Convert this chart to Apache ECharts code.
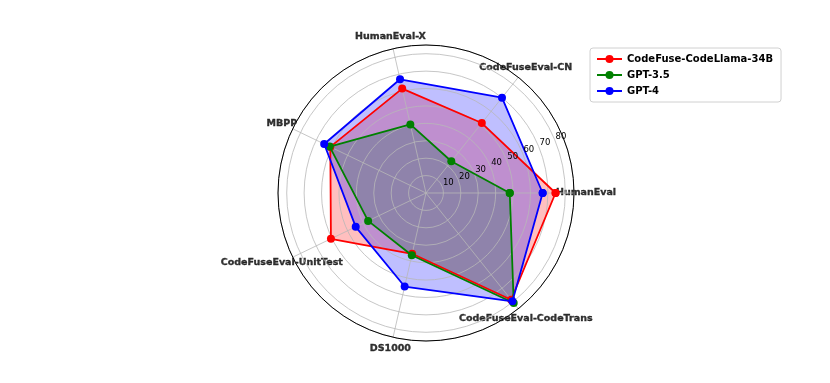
<!DOCTYPE html>
<html>
<head>
<meta charset="utf-8">
<script src="https://cdn.jsdelivr.net/npm/echarts@6/dist/echarts.min.js"></script>
<style>
html,body{margin:0;padding:0;background:#fff;}
#chart{width:830px;height:383px;}
</style>
</head>
<body>
<div id="chart"></div>
<script>
const categories = ['HumanEval', 'CodeFuseEval-CN', 'HumanEval-X', 'MBPP', 'CodeFuseEval-UnitTest', 'DS1000', 'CodeFuseEval-CodeTrans'];
const seriesNames = ['CodeFuse-CodeLlama-34B', 'GPT-3.5', 'GPT-4'];
const codefuseValues = [74.4, 51.4, 61.5, 61.0, 60.6, 35.8, 78.4];
const gpt35Values = [48.1, 23.3, 40.4, 61.4, 36.9, 36.7, 80.8];
const gpt4Values = [67.0, 70.0, 67.0, 64.9, 44.8, 55.1, 79.6];
const radialTicks = [10, 20, 30, 40, 50, 60, 70, 80];
const radialMax = 85;

const FONT = 'DejaVu Sans';
const CENTER = [426, 193];
const R = 148;
const PX_PER_UNIT = R / radialMax;
const N = categories.length;
const colors = ['#ff0000', '#008000', '#0000ff'];
const allValues = [codefuseValues, gpt35Values, gpt4Values];

// [radius, angle-position] pairs; angle position = category index, closed back to the first
function closedData(vals) {
  const d = vals.map((v, i) => [v, i]);
  d.push([vals[0], N]);
  return d;
}

const gridColor = '#b8b8b8';

const series = [];
// line + marker series (drawn on top)
allValues.forEach((vals, k) => {
  series.push({
    name: seriesNames[k],
    type: 'line',
    coordinateSystem: 'polar',
    polarIndex: 0,
    data: closedData(vals),
    symbol: 'circle',
    symbolSize: 8,
    showSymbol: true,
    lineStyle: { color: colors[k], width: 1.8 },
    itemStyle: { color: colors[k] },
    z: 4 + k * 0.1,
    animation: false
  });
});
// filled areas (beneath the grid lines, like matplotlib)
allValues.forEach((vals, k) => {
  series.push({
    name: seriesNames[k],
    type: 'line',
    coordinateSystem: 'polar',
    polarIndex: 0,
    data: closedData(vals),
    showSymbol: false,
    symbol: 'none',
    lineStyle: { width: 0, opacity: 0 },
    areaStyle: { color: colors[k], opacity: 0.25 },
    z: 1,
    silent: true,
    animation: false
  });
});
// category labels, centered beyond the outer circle
series.push({
  type: 'scatter',
  coordinateSystem: 'polar',
  polarIndex: 2,
  data: categories.map((c, i) => [1, i]),
  symbolSize: 1,
  itemStyle: { color: 'rgba(255,255,255,0)' },
  label: {
    show: true,
    position: 'inside',
    formatter: p => categories[p.value[1]],
    color: '#000000',
    textBorderColor: '#000000',
    textBorderWidth: 0.35,
    fontFamily: FONT,
    fontWeight: 'bold',
    fontSize: 9.5
  },
  silent: true,
  animation: false
});

const option = {
  backgroundColor: '#ffffff',
  animation: false,
  textStyle: { fontFamily: FONT },
  legend: {
    data: seriesNames,
    orient: 'vertical',
    left: 590,
    top: 48,
    padding: [6, 8, 6, 6],
    itemGap: 6,
    itemWidth: 25,
    itemHeight: 10,
    borderColor: '#d0d0d0',
    borderWidth: 1,
    borderRadius: 3,
    backgroundColor: '#fff',
    textStyle: { fontFamily: FONT, fontWeight: 'bold', fontSize: 10, color: '#000' }
  },
  polar: [
    { center: CENTER, radius: R },
    { center: CENTER, radius: [7, 7 + radialTicks[radialTicks.length - 1] * PX_PER_UNIT] },
    { center: CENTER, radius: 160 }
  ],
  angleAxis: [
    {
      polarIndex: 0,
      type: 'value',
      min: 0,
      max: N,
      interval: 1,
      startAngle: 0,
      clockwise: false,
      z: 3,
      axisLine: { show: true, lineStyle: { color: '#000', width: 1 } },
      axisTick: { show: false },
      axisLabel: { show: false },
      splitLine: { show: true, lineStyle: { color: gridColor, width: 0.8 } }
    },
    {
      polarIndex: 1,
      type: 'value',
      min: 0,
      max: 360,
      startAngle: 22.5,
      clockwise: false,
      show: false
    },
    {
      polarIndex: 2,
      type: 'value',
      min: 0,
      max: N,
      startAngle: 0,
      clockwise: false,
      show: false
    }
  ],
  radiusAxis: [
    {
      polarIndex: 0,
      type: 'value',
      min: 0,
      max: radialMax,
      interval: 10,
      z: 3,
      axisLine: { show: false },
      axisTick: { show: false },
      axisLabel: { show: false },
      splitLine: { show: true, lineStyle: { color: gridColor, width: 0.8 } }
    },
    {
      polarIndex: 1,
      type: 'value',
      min: 0,
      max: radialTicks[radialTicks.length - 1],
      interval: 10,
      z: 5,
      axisLine: { show: false },
      axisTick: { show: false },
      splitLine: { show: false },
      axisLabel: {
        show: true,
        showMinLabel: false,
        margin: 0.5,
        align: 'center',
        verticalAlign: 'middle',
        color: '#000',
        fontFamily: FONT,
        fontSize: 8.5,
        formatter: v => (radialTicks.indexOf(v) >= 0 ? String(v) : '')
      }
    },
    {
      polarIndex: 2,
      type: 'value',
      min: 0,
      max: 1,
      show: false
    }
  ],
  series: series
};

const chart = echarts.init(document.getElementById('chart'), null, { renderer: 'canvas' });
chart.setOption(option);
</script>
</body>
</html>
